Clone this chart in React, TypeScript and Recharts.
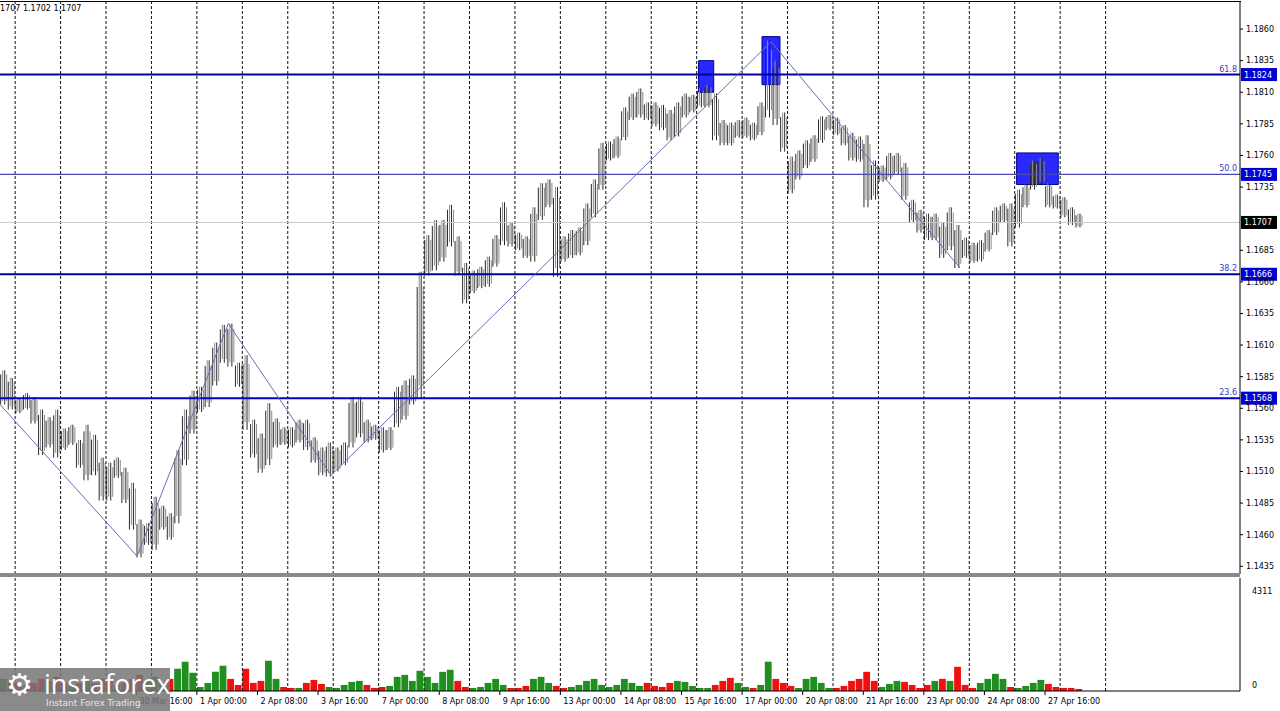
import React from 'react';
import { ComposedChart, Bar, Line, XAxis, YAxis, ReferenceLine, ReferenceArea, Cell } from 'recharts';

// EURUSD H1, aggregated to 4-hour slots
const barHigh = [
  1.1590, 1.1584, 1.1568, 1.1572, 1.1569, 1.1559, 1.1553, 1.1559, 1.1544, 1.1547,
  1.1535, 1.1547, 1.1539, 1.1521, 1.1517, 1.1521, 1.1513, 1.1501, 1.1472, 1.1469,
  1.1490, 1.1483, 1.1477, 1.1527, 1.1559, 1.1574, 1.1577, 1.1598, 1.1612, 1.1626,
  1.1627, 1.1596, 1.1602, 1.1551, 1.1540, 1.1564, 1.1552, 1.1545, 1.1545, 1.1551,
  1.1551, 1.1537, 1.1529, 1.1533, 1.1529, 1.1533, 1.1569, 1.1569, 1.1551, 1.1547,
  1.1545, 1.1545, 1.1577, 1.1582, 1.1586, 1.1668, 1.1697, 1.1709, 1.1709, 1.1721,
  1.1696, 1.1675, 1.1669, 1.1672, 1.1680, 1.1697, 1.1723, 1.1707, 1.1699, 1.1696,
  1.1719, 1.1738, 1.1741, 1.1735, 1.1696, 1.1701, 1.1703, 1.1722, 1.1741, 1.1770,
  1.1771, 1.1775, 1.1798, 1.1809, 1.1813, 1.1802, 1.1802, 1.1800, 1.1796, 1.1802,
  1.1809, 1.1808, 1.1813, 1.1816, 1.1809, 1.1788, 1.1786, 1.1788, 1.1790, 1.1786,
  1.1802, 1.1851, 1.1835, 1.1794, 1.1759, 1.1764, 1.1772, 1.1776, 1.1791, 1.1792,
  1.1790, 1.1784, 1.1778, 1.1775, 1.1776, 1.1756, 1.1752, 1.1762, 1.1762, 1.1754,
  1.1725, 1.1717, 1.1714, 1.1714, 1.1707, 1.1719, 1.1705, 1.1695, 1.1691, 1.1693,
  1.1701, 1.1719, 1.1722, 1.1722, 1.1733, 1.1737, 1.1756, 1.1758, 1.1738, 1.1729,
  1.1727, 1.1719, 1.1714,
];
const barLow = [
  1.1563, 1.1559, 1.1556, 1.1559, 1.1548, 1.1523, 1.1529, 1.1521, 1.1527, 1.1531,
  1.1513, 1.1503, 1.1507, 1.1487, 1.1487, 1.1505, 1.1485, 1.1464, 1.1442, 1.1452,
  1.1448, 1.1464, 1.1456, 1.1469, 1.1515, 1.1540, 1.1557, 1.1561, 1.1578, 1.1596,
  1.1593, 1.1577, 1.1543, 1.1521, 1.1509, 1.1515, 1.1529, 1.1531, 1.1529, 1.1533,
  1.1527, 1.1517, 1.1507, 1.1506, 1.1510, 1.1515, 1.1529, 1.1537, 1.1533, 1.1535,
  1.1525, 1.1527, 1.1545, 1.1551, 1.1563, 1.1568, 1.1665, 1.1669, 1.1676, 1.1688,
  1.1665, 1.1643, 1.1651, 1.1655, 1.1656, 1.1672, 1.1689, 1.1688, 1.1685, 1.1679,
  1.1676, 1.1709, 1.1719, 1.1664, 1.1676, 1.1679, 1.1681, 1.1689, 1.1711, 1.1733,
  1.1756, 1.1758, 1.1772, 1.1788, 1.1790, 1.1788, 1.1783, 1.1780, 1.1772, 1.1775,
  1.1790, 1.1794, 1.1798, 1.1798, 1.1772, 1.1768, 1.1768, 1.1774, 1.1774, 1.1772,
  1.1776, 1.1790, 1.1784, 1.1763, 1.1730, 1.1741, 1.1750, 1.1755, 1.1770, 1.1780,
  1.1776, 1.1768, 1.1756, 1.1755, 1.1719, 1.1725, 1.1739, 1.1741, 1.1745, 1.1725,
  1.1707, 1.1699, 1.1693, 1.1693, 1.1679, 1.1685, 1.1671, 1.1679, 1.1675, 1.1676,
  1.1684, 1.1697, 1.1707, 1.1688, 1.1703, 1.1719, 1.1733, 1.1737, 1.1719, 1.1718,
  1.1711, 1.1705, 1.1703,
];
const volume = [
  462, 385, 308, 231, 308, 462, 385, 539, 308, 231,
  308, 385, 308, 462, 385, 231, 308, 462, 616, 385,
  539, 308, 462, 847, 1117, 693, 154, 308, 731, 963,
  462, 231, 847, 308, 385, 1155, 462, 154, 116, 116,
  308, 424, 270, 154, 116, 231, 347, 385, 231, 116,
  154, 193, 539, 616, 385, 770, 539, 308, 731, 809,
  385, 154, 116, 154, 308, 462, 231, 116, 116, 193,
  462, 539, 308, 193, 116, 154, 231, 385, 462, 231,
  154, 231, 462, 308, 193, 308, 193, 154, 308, 385,
  347, 193, 116, 116, 231, 385, 501, 308, 154, 116,
  231, 1117, 462, 308, 193, 116, 462, 539, 308, 116,
  116, 193, 385, 462, 731, 385, 154, 270, 385, 347,
  231, 116, 231, 385, 462, 385, 924, 231, 116, 308,
  462, 655, 462, 154, 116, 193, 308, 424, 270, 154,
  116, 116, 77,
];

const zigzagHour = [0, 72.4, 120.6, 174.9, 407.3, 507.1];
const zigzagPrice = [1.1563, 1.1443, 1.1627, 1.1507, 1.1850, 1.1671];

const fibLevels = ['61.8', '50.0', '38.2', '23.6'];
const fibPrices = [1.1824, 1.1745, 1.1666, 1.1568];
const lastPrice = 1.1707;

const zoneHours = [[369, 377], [402.5, 412], [537, 559]];
const zonePrices = [[1.1810, 1.1835], [1.1816, 1.1854], [1.1737, 1.1762]];

const priceTicks = [
  1.1435, 1.146, 1.1485, 1.151, 1.1535, 1.156, 1.1585, 1.161, 1.1635,
  1.166, 1.1685, 1.1735, 1.176, 1.1785, 1.181, 1.1835, 1.186,
];
// the first two labels of this row sit under the watermark and are not readable
const timeLabels = [
  '30 Mar 16:00', '1 Apr 00:00', '2 Apr 08:00',
  '3 Apr 16:00', '7 Apr 00:00', '8 Apr 08:00', '9 Apr 16:00', '13 Apr 00:00',
  '14 Apr 08:00', '15 Apr 16:00', '17 Apr 00:00', '20 Apr 08:00', '21 Apr 16:00',
  '23 Apr 00:00', '24 Apr 08:00', '27 Apr 16:00',
];
const volumeMax = 4311;

// hour axis: one unit per H1 bar, days every 24 bars, labels every 32 bars
const HOURS = 655;
const dayHours = Array.from({ length: 25 }, (_, k) => 8 + 24 * k);
const labelHours = timeLabels.map((_, j) => 72 + 32 * j);

const priceRows = barHigh.map((hi, i) => ({ hour: i * 4 + 2, range: [barLow[i], hi] }));
const volumeRows = volume.map((v, i) => ({
  hour: i * 4 + 2,
  vol: v,
  up: i === 0 || barHigh[i] + barLow[i] >= barHigh[i - 1] + barLow[i - 1],
}));
const zigzag = zigzagHour.map((h, i) => ({ hour: h, price: zigzagPrice[i] }));

const FONT = 'DejaVu Sans, Tahoma, sans-serif';

// a 4-hour slot drawn as a row of thin hourly-looking strokes
function SlotBar(props: any) {
  const { x, y, width, height } = props;
  if (height == null || width == null) return null;
  const cx = x + width / 2;
  const xs = [cx - 3, cx - 1, cx + 1, cx + 3];
  return (
    <g>
      {xs.map((lx, k) => (
        <line
          key={k}
          x1={lx}
          x2={lx}
          y1={y + (k === 0 || k === 3 ? height * 0.12 : 0)}
          y2={y + height - (k === 1 || k === 3 ? height * 0.1 : 0)}
          stroke={k % 2 === 0 ? '#2a2a2a' : '#8a8a8a'}
          strokeWidth={1}
        />
      ))}
    </g>
  );
}

function LevelTag(props: any) {
  const { viewBox, level, text, bg } = props;
  if (!viewBox) return null;
  const right = viewBox.x + viewBox.width;
  const y = viewBox.y;
  return (
    <g>
      {level ? (
        <text x={right - 3} y={y - 3} textAnchor="end" fontSize={8} fill="#3b3bb8" fontFamily={FONT}>{level}</text>
      ) : null}
      <rect x={right + 1} y={y - 6.5} width={36} height={13} fill={bg} />
      <text x={right + 4} y={y + 3} fontSize={8} fill="#ffffff" fontFamily={FONT}>{text}</text>
    </g>
  );
}

function TimeTick({ x, y, payload }: any) {
  const j = labelHours.indexOf(payload.value);
  return (
    <g>
      <line x1={x} y1={y} x2={x} y2={y + 4} stroke="#000" />
      <text x={x + 3} y={y + 13} fontSize={8} fill="#000" fontFamily={FONT}>{timeLabels[j]}</text>
    </g>
  );
}

function VolTick({ x, y, payload }: any) {
  const top = payload.value === volumeMax;
  return (
    <text x={x + 4} y={top ? y + 8 : y - 3} fontSize={8} fill="#000" fontFamily={FONT}>{payload.value}</text>
  );
}

export default function App() {
  return (
    <div style={{ position: 'absolute', left: 0, top: 0, width: 1280, height: 711, background: '#fff', overflow: 'hidden', fontFamily: FONT }}>
      <div style={{ position: 'absolute', left: 0, top: 1, width: 1241, height: 1, background: '#000' }} />

      <div style={{ position: 'absolute', left: 0, top: 0 }}>
        <ComposedChart width={1280} height={574} data={priceRows} margin={{ top: 2, right: 0, bottom: 0, left: 0 }}>
          <XAxis dataKey="hour" type="number" domain={[0, HOURS]} allowDataOverflow hide />
          <YAxis
            orientation="right"
            width={40}
            domain={[1.14289, 1.18814]}
            allowDataOverflow
            ticks={priceTicks}
            tickFormatter={(v: number) => v.toFixed(4)}
            tick={{ fontSize: 8, fill: '#000', fontFamily: FONT }}
            tickSize={3}
            tickMargin={3}
            axisLine={{ stroke: '#000' }}
            tickLine={{ stroke: '#000' }}
          />
          {dayHours.map(h => (
            <ReferenceLine key={'d' + h} x={h} stroke="#111" strokeDasharray="3 2" />
          ))}
          <ReferenceLine y={lastPrice} stroke="#c8c8c8" label={<LevelTag text={lastPrice.toFixed(4)} bg="#000" />} />
          {fibPrices.map((p, i) => (
            <ReferenceLine
              key={'f' + i}
              y={p}
              stroke={i === 1 ? '#4a4aae' : i === 3 ? '#0000cc' : '#00009a'}
              strokeWidth={i === 1 ? 1.3 : 2}
              label={<LevelTag level={fibLevels[i]} text={p.toFixed(4)} bg="#0000d0" />}
            />
          ))}
          <Bar dataKey="range" barSize={8} fill="#666" shape={<SlotBar />} isAnimationActive={false} />
          <Line
            data={zigzag}
            dataKey="price"
            type="linear"
            stroke="#6c6cb8"
            strokeWidth={1}
            dot={false}
            isAnimationActive={false}
          />
          {zoneHours.map((z, i) => (
            <ReferenceArea
              key={'z' + i}
              x1={z[0]}
              x2={z[1]}
              y1={zonePrices[i][0]}
              y2={zonePrices[i][1]}
              fill="#0a0aff"
              fillOpacity={0.88}
              stroke="#00008a"
              strokeOpacity={1}
            />
          ))}
        </ComposedChart>
      </div>

      <div style={{ position: 'absolute', left: 0, top: 573, width: 1240, height: 4, background: '#8a8a8a' }} />

      <div style={{ position: 'absolute', left: 0, top: 577 }}>
        <ComposedChart width={1280} height={134} data={volumeRows} margin={{ top: 1, right: 0, bottom: 0, left: 0 }}>
          <XAxis
            dataKey="hour"
            type="number"
            domain={[0, HOURS]}
            allowDataOverflow
            ticks={labelHours}
            interval={0}
            tick={<TimeTick />}
            tickSize={0}
            tickMargin={0}
            height={20}
            axisLine={{ stroke: '#000' }}
            tickLine={false}
          />
          <YAxis
            orientation="right"
            width={40}
            domain={[0, volumeMax]}
            ticks={[0, volumeMax]}
            tick={<VolTick />}
            tickLine={false}
            axisLine={{ stroke: '#000' }}
          />
          {dayHours.map(h => (
            <ReferenceLine key={'v' + h} x={h} stroke="#111" strokeDasharray="3 2" />
          ))}
          <Bar dataKey="vol" barSize={8} isAnimationActive={false}>
            {volumeRows.map((r, i) => (
              <Cell key={i} fill={r.up ? '#1f8f1f' : '#f01010'} />
            ))}
          </Bar>
        </ComposedChart>
      </div>

      <div style={{ position: 'absolute', left: 0, top: 4, fontSize: 8, color: '#000' }}>1707 1.1702 1.1707</div>

      <div
        style={{
          position: 'absolute', left: 0, top: 668, width: 170, height: 43,
          background: 'rgba(118,118,118,0.85)', color: '#fff',
        }}
      >
        <div style={{ position: 'absolute', left: 6, top: 2, fontSize: 30, lineHeight: '30px' }}>⚙</div>
        <div style={{ position: 'absolute', left: 44, top: 1, fontSize: 27, lineHeight: '30px', fontFamily: 'Open Sans, sans-serif' }}>instaforex</div>
        <div style={{ position: 'absolute', left: 46, top: 30, fontSize: 9, lineHeight: '11px', color: '#e6e6e6' }}>Instant Forex Trading</div>
      </div>
    </div>
  );
}
